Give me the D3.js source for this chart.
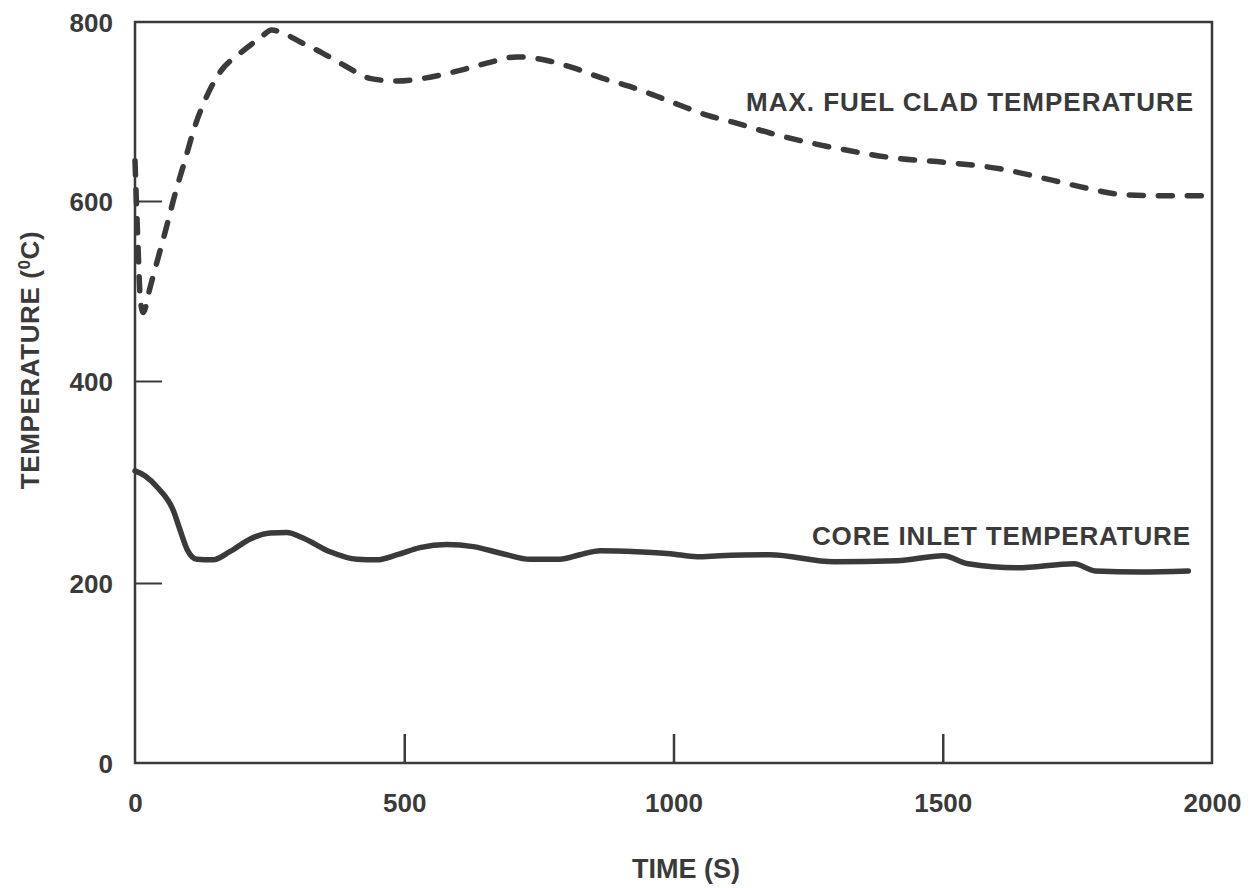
<!DOCTYPE html>
<html>
<head>
<meta charset="utf-8">
<script src="https://cdn.jsdelivr.net/npm/d3@7"></script>
<style>
  html, body { margin: 0; padding: 0; background: #ffffff; }
  svg { display: block; }
  text { font-family: "Liberation Sans", Arial, sans-serif; font-weight: bold; fill: #3a3a3a; }
</style>
</head>
<body>
<svg id="chart" width="1253" height="888"></svg>
<script>
// ---- data ----
const xTicks = [0, 500, 1000, 1500, 2000];
const yTicks = [0, 200, 400, 600, 800];
const xMinorTicks = [500, 1000, 1500];
const yMinorTicks = [200, 400, 600];

// Max fuel clad temperature (dashed)
const cladTime = [0, 5, 10, 15, 28, 43, 58, 74, 93, 111, 134, 158, 195, 232, 254, 269, 306, 349, 393, 436, 486, 535, 604, 653, 709, 765, 813, 869, 919, 969, 1012, 1062, 1117, 1179, 1246, 1311, 1410, 1508, 1606, 1705, 1770, 1835, 1900, 1995];
const cladTemp = [645, 560, 490, 476, 504, 537, 570, 607, 646, 683, 718, 744, 765, 782, 791, 789, 778, 765, 750, 737, 734, 737, 746, 754, 761, 757, 749, 737, 728, 717, 707, 696, 687, 676, 666, 658, 648, 643, 636, 623, 614, 607, 606, 606];

// Core inlet temperature (solid)
const inletTime = [0, 19, 41, 71, 84, 97, 115, 145, 176, 214, 251, 282, 312, 362, 412, 449, 487, 529, 579, 628, 683, 734, 789, 826, 864, 932, 994, 1044, 1086, 1179, 1298, 1415, 1501, 1547, 1638, 1744, 1783, 1868, 1956];
const inletTemp = [311, 306, 295, 272, 252, 233, 223.5, 223, 231, 243.6, 249.5, 250, 244.6, 231, 223.5, 223, 228, 235, 238, 236, 229, 223.5, 223.5, 228, 232, 231, 229, 226, 227, 228, 221, 222, 227, 219, 215, 219, 212, 211, 212];

const seriesLabels = ["MAX. FUEL CLAD TEMPERATURE", "CORE INLET TEMPERATURE"];
const xTitle = "TIME (S)";
const yTitleMain = "TEMPERATURE (";
const yTitleSup = "0";
const yTitleEnd = "C)";

// ---- layout ----
const svg = d3.select("#chart");
const pLeft = 135, pRight = 1212, pTop = 22, pBottom = 763;
const ink = "#3a3a3a";

const x = d3.scaleLinear().domain([0, 2000]).range([pLeft, pRight]);
// the printed axis is slightly irregular; follow its tick positions
const y = d3.scaleLinear().domain([0, 200, 400, 600, 800]).range([pBottom, 583, 381, 201, pTop]);

// frame
svg.append("rect")
  .attr("x", pLeft).attr("y", pTop)
  .attr("width", pRight - pLeft).attr("height", pBottom - pTop)
  .attr("fill", "none").attr("stroke", ink).attr("stroke-width", 2.5);

// inner tick marks
const yTickG = svg.append("g").attr("transform", `translate(${pLeft},0)`)
  .call(d3.axisLeft(y).tickValues(yMinorTicks).tickSize(-27).tickFormat(""));
yTickG.select(".domain").remove();
yTickG.selectAll("line").attr("stroke", ink).attr("stroke-width", 2);

const xTickG = svg.append("g").attr("transform", `translate(0,${pBottom})`)
  .call(d3.axisBottom(x).tickValues(xMinorTicks).tickSize(-29).tickFormat(""));
xTickG.select(".domain").remove();
xTickG.selectAll("line").attr("stroke", ink).attr("stroke-width", 2.5);

// tick labels
const yLab = svg.append("g").attr("transform", `translate(${pLeft},0)`)
  .call(d3.axisLeft(y).tickValues(yTicks).tickSize(0).tickPadding(22).tickFormat(d3.format("d")));
yLab.select(".domain").remove();
yLab.attr("font-family", null).attr("font-size", null);
yLab.selectAll("text")
  .attr("font-size", 26).attr("fill", ink).attr("dy", "0.36em");

const xLab = svg.append("g").attr("transform", `translate(0,${pBottom})`)
  .call(d3.axisBottom(x).tickValues(xTicks).tickSize(0).tickPadding(31).tickFormat(d3.format("d")));
xLab.select(".domain").remove();
xLab.attr("font-family", null).attr("font-size", null);
xLab.selectAll("text")
  .attr("font-size", 26).attr("fill", ink);

// lines
const cladData = cladTime.map((t, i) => [t, cladTemp[i]]);
const inletData = inletTime.map((t, i) => [t, inletTemp[i]]);
const line = d3.line().x(d => x(d[0])).y(d => y(d[1])).curve(d3.curveMonotoneX);

svg.append("path").datum(cladData)
  .attr("d", line).attr("fill", "none")
  .attr("stroke", ink).attr("stroke-width", 5.5)
  .attr("stroke-dasharray", "14,15").attr("stroke-linecap", "round");

svg.append("path").datum(inletData)
  .attr("d", line).attr("fill", "none")
  .attr("stroke", ink).attr("stroke-width", 5.5)
  .attr("stroke-linejoin", "round").attr("stroke-linecap", "round");

// series labels
svg.append("text")
  .attr("x", 1193).attr("y", 111).attr("text-anchor", "end")
  .attr("font-size", 26)
  .attr("textLength", 447).attr("lengthAdjust", "spacing")
  .text(seriesLabels[0]);
svg.append("text")
  .attr("x", 1190).attr("y", 545).attr("text-anchor", "end")
  .attr("font-size", 26)
  .attr("textLength", 378).attr("lengthAdjust", "spacing")
  .text(seriesLabels[1]);

// axis titles
svg.append("text")
  .attr("x", 686).attr("y", 878).attr("text-anchor", "middle")
  .attr("font-size", 27)
  .text(xTitle);

const yt = svg.append("text")
  .attr("transform", "translate(39,360) rotate(-90)")
  .attr("text-anchor", "middle")
  .attr("font-size", 26)
  .attr("letter-spacing", 0.6);
yt.append("tspan").text(yTitleMain);
yt.append("tspan").attr("dy", -9).attr("font-size", 17).text(yTitleSup);
yt.append("tspan").attr("dy", 9).text(yTitleEnd);
</script>
</body>
</html>
